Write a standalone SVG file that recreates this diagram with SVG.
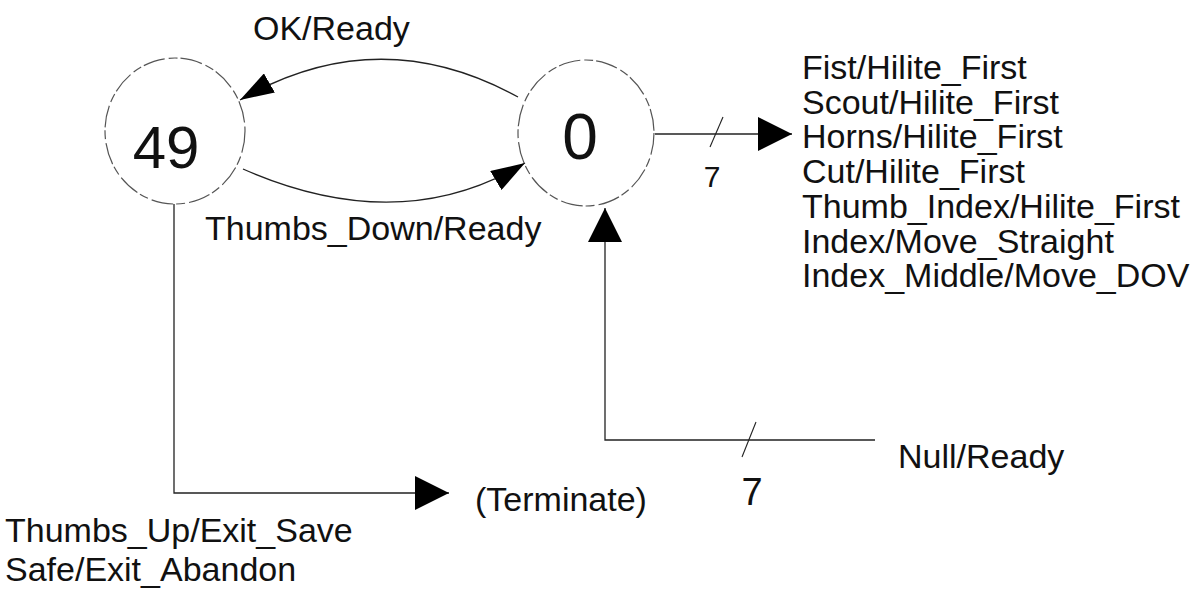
<svg xmlns="http://www.w3.org/2000/svg" width="1202" height="614" viewBox="0 0 1202 614">
  <style>
    .bg { fill: #ffffff; }
    .state { fill: none; stroke: #555; stroke-width: 1.2; stroke-dasharray: 22 4 9 3; }
    .edge { fill: none; stroke: #222; stroke-width: 1.3; }
    .tick { fill: none; stroke: #222; stroke-width: 1.1; }
    .lbl { font-family: "Liberation Sans", Arial, sans-serif; font-size: 34px; fill: #111; }
    .num { font-family: "Liberation Sans", Arial, sans-serif; fill: #111; text-anchor: middle; }
  </style>
  <defs>
    <marker id="ahBig" markerUnits="userSpaceOnUse" viewBox="0 0 34 34" markerWidth="34" markerHeight="34" refX="34" refY="17" orient="auto">
      <path d="M0,0 L34,17 L0,34 Z" fill="#000"/>
    </marker>
    <marker id="ahSmall" markerUnits="userSpaceOnUse" viewBox="0 0 34 22" markerWidth="34" markerHeight="22" refX="34" refY="11" orient="auto">
      <path d="M0,0 L34,11 L0,22 Z" fill="#000"/>
    </marker>
  </defs>
  <rect class="bg" x="0" y="0" width="1202" height="614"/>

  <g id="connectors">
    <path id="e-ok" class="edge" d="M518,97 Q378,20 240,100" marker-end="url(#ahSmall)"/>
    <path id="e-thumbsdown" class="edge" d="M243,169 Q400,238 525,163" marker-end="url(#ahSmall)"/>
    <path id="e-outputs" class="edge" d="M655,134 L792,134" marker-end="url(#ahBig)"/>
    <line class="tick" x1="723" y1="117" x2="710" y2="147"/>
    <path id="e-null" class="edge" d="M875,440 L605,440 L605,208" marker-end="url(#ahBig)"/>
    <line class="tick" x1="756" y1="422" x2="742" y2="457"/>
    <path id="e-exit" class="edge" d="M174,204 L174,493 L449,493" marker-end="url(#ahBig)"/>

    <text class="lbl" x="253" y="40">OK/Ready</text>
    <text class="lbl" x="205" y="240">Thumbs_Down/Ready</text>
    <text class="num" x="712" y="187" font-size="30">7</text>
    <text class="num" x="752" y="505" font-size="38">7</text>
    <text class="lbl" x="5" y="542" font-size="35">Thumbs_Up/Exit_Save</text>
    <text class="lbl" x="5" y="581" font-size="35">Safe/Exit_Abandon</text>
  </g>

  <g id="node-49">
    <ellipse class="state" cx="175" cy="131" rx="70" ry="73"/>
    <text class="num" x="166" y="168" font-size="60">49</text>
  </g>

  <g id="node-0">
    <ellipse class="state" cx="586" cy="133" rx="68" ry="73"/>
    <text class="num" x="580" y="159" font-size="64">0</text>
  </g>

  <g id="node-outputs">
    <text class="lbl" x="802" y="79">Fist/Hilite_First</text>
    <text class="lbl" x="802" y="113.7">Scout/Hilite_First</text>
    <text class="lbl" x="802" y="148.4">Horns/Hilite_First</text>
    <text class="lbl" x="802" y="183.1">Cut/Hilite_First</text>
    <text class="lbl" x="802" y="217.8">Thumb_Index/Hilite_First</text>
    <text class="lbl" x="802" y="252.5">Index/Move_Straight</text>
    <text class="lbl" x="802" y="287.2">Index_Middle/Move_DOV</text>
  </g>

  <g id="node-null">
    <text class="lbl" x="898" y="468">Null/Ready</text>
  </g>

  <g id="node-terminate">
    <text class="lbl" x="475" y="511">(Terminate)</text>
  </g>
</svg>
